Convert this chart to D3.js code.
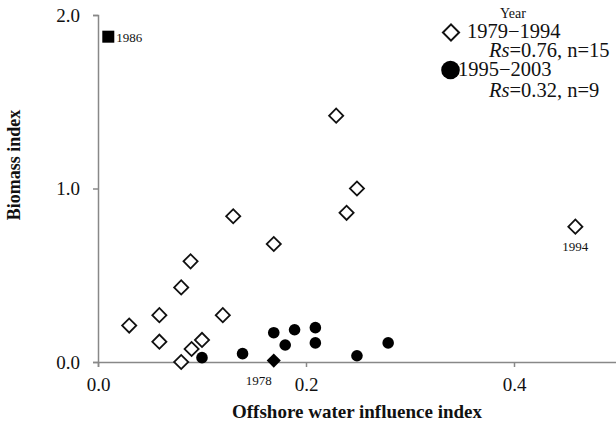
<!DOCTYPE html>
<html>
<head>
<meta charset="utf-8">
<script src="https://cdn.jsdelivr.net/npm/d3@7"></script>
<style>
  html, body { margin: 0; padding: 0; background: #fff; }
  svg { display: block; }
</style>
</head>
<body>
<div id="chart"></div>
<script>
// offshore water influence index (x) vs biomass index (y)
const earlyX = [0.030, 0.059, 0.059, 0.080, 0.089, 0.090, 0.080, 0.100, 0.120, 0.130, 0.169, 0.229, 0.239, 0.249, 0.459];
const earlyY = [0.21, 0.27, 0.117, 0.43, 0.58, 0.075, 0.0, 0.127, 0.27, 0.84, 0.68, 1.42, 0.86, 1.0, 0.78];
const lateX = [0.100, 0.139, 0.169, 0.180, 0.189, 0.209, 0.209, 0.249, 0.279];
const lateY = [0.025, 0.048, 0.169, 0.098, 0.186, 0.198, 0.11, 0.036, 0.11];
const outlier1986 = { x: 0.0099, y: 1.875, label: '1986' };
const outlier1978 = { x: 0.169, y: 0.008, label: '1978' };
const label1994 = { x: 0.459, y: 0.78, label: '1994' };
const xTicks = [0, 0.2, 0.4];
const yTicks = [0, 1, 2];

const W = 616, H = 424;
const FONT = "'Liberation Serif', 'Times New Roman', serif";

const svg = d3.select('#chart').append('svg').attr('width', W).attr('height', H);

const x = d3.scaleLinear().domain([0, 0.5]).range([98, 618]);
const y = d3.scaleLinear().domain([0, 2]).range([362, 15]);

// axes
const xAxis = svg.append('g').attr('transform', `translate(0,${y(0)})`)
    .call(d3.axisBottom(x).tickValues(xTicks).tickSizeOuter(0).tickSize(5).tickPadding(11).tickFormat(d3.format('.1f')));
const yAxis = svg.append('g').attr('transform', `translate(${x(0)},0)`)
    .call(d3.axisLeft(y).tickValues(yTicks).tickSizeOuter(0).tickSize(5).tickPadding(13).tickFormat(d3.format('.1f')));

[xAxis, yAxis].forEach(a => {
    a.select('.domain').attr('stroke', '#888').attr('stroke-width', 1.5);
    a.selectAll('.tick line').attr('stroke', '#888').attr('stroke-width', 1.5);
    a.selectAll('.tick text').attr('fill', '#111').attr('font-size', 19).attr('font-family', FONT);
});

// axis titles
svg.append('text').attr('x', 357).attr('y', 418).attr('text-anchor', 'middle')
    .attr('font-family', FONT).attr('font-size', 19).attr('font-weight', 700).attr('fill', '#111')
    .text('Offshore water influence index');
svg.append('text').attr('transform', 'translate(20,165) rotate(-90)').attr('text-anchor', 'middle')
    .attr('font-family', FONT).attr('font-size', 18).attr('font-weight', 700).attr('fill', '#111')
    .text('Biomass index');

const diamond = d3.symbol().type(d3.symbolSquare).size(100);

// 1979-1994 open diamonds
svg.append('g').selectAll('path').data(earlyX).join('path')
    .attr('d', diamond)
    .attr('transform', (d, i) => `translate(${x(d)},${y(earlyY[i])}) rotate(45)`)
    .attr('fill', '#fff').attr('stroke', '#111').attr('stroke-width', 1.8);

// 1995-2003 filled circles
svg.append('g').selectAll('circle').data(lateX).join('circle')
    .attr('cx', d => x(d)).attr('cy', (d, i) => y(lateY[i])).attr('r', 5.8)
    .attr('fill', '#000');

// 1978 filled diamond
svg.append('path').attr('d', diamond)
    .attr('transform', `translate(${x(outlier1978.x)},${y(outlier1978.y)}) rotate(45)`)
    .attr('fill', '#000');
svg.append('text').attr('x', x(outlier1978.x) - 15).attr('y', 385).attr('text-anchor', 'middle')
    .attr('font-family', FONT).attr('font-size', 13).attr('fill', '#111').text(outlier1978.label);

// 1986 filled square
svg.append('rect').attr('x', x(outlier1986.x) - 6).attr('y', y(outlier1986.y) - 6)
    .attr('width', 12).attr('height', 12).attr('fill', '#000');
svg.append('text').attr('x', x(outlier1986.x) + 8).attr('y', y(outlier1986.y) + 5)
    .attr('font-family', FONT).attr('font-size', 13).attr('fill', '#111').text(outlier1986.label);

// 1994 label
svg.append('text').attr('x', x(label1994.x)).attr('y', y(label1994.y) + 24).attr('text-anchor', 'middle')
    .attr('font-family', FONT).attr('font-size', 13).attr('fill', '#111').text(label1994.label);

// legend
const lg = svg.append('g').attr('font-family', FONT).attr('fill', '#111');
lg.append('text').attr('x', 513).attr('y', 18).attr('text-anchor', 'middle').attr('font-size', 14).text('Year');
lg.append('path').attr('d', d3.symbol().type(d3.symbolSquare).size(130))
    .attr('transform', 'translate(451,32.5) rotate(45)')
    .attr('fill', '#fff').attr('stroke', '#111').attr('stroke-width', 2);
lg.append('text').attr('x', 467).attr('y', 38).attr('font-size', 20.5).text('1979\u22121994');
const t1 = lg.append('text').attr('x', 489).attr('y', 57).attr('font-size', 20.5);
t1.append('tspan').attr('font-style', 'italic').text('Rs');
t1.append('tspan').text('=0.76, n=15');
lg.append('circle').attr('cx', 450.5).attr('cy', 70).attr('r', 9.3).attr('fill', '#000');
lg.append('text').attr('x', 458).attr('y', 76).attr('font-size', 20.5).text('1995\u22122003');
const t2 = lg.append('text').attr('x', 489).attr('y', 97).attr('font-size', 20.5);
t2.append('tspan').attr('font-style', 'italic').text('Rs');
t2.append('tspan').text('=0.32, n=9');
</script>
</body>
</html>
